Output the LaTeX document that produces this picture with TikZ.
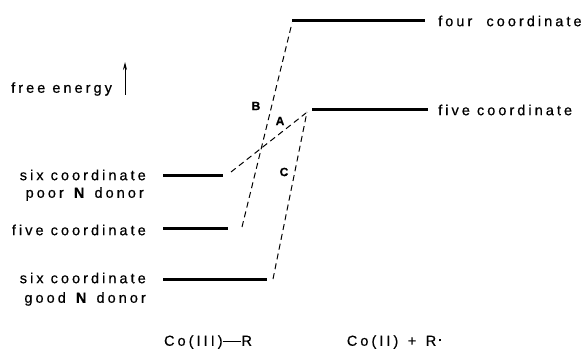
\documentclass[tikz,border=0pt]{standalone}
\usepackage{fontspec}
\setmainfont{Liberation Sans}[LetterSpace=21,FakeBold=0.6]
\usetikzlibrary{arrows.meta}
\begin{document}
\begin{tikzpicture}[x=1pt,y=-1pt,
  level/.style={line width=3pt},
  path/.style={line width=1pt,dash pattern=on 6pt off 4pt},
  lab/.style={font=\fontsize{14.5}{16}\selectfont,inner sep=0pt},
  letter/.style={font=\fontsize{12}{13}\selectfont\bfseries,inner sep=0pt}]
\useasboundingbox (0,0) rectangle (586,350);
% left levels
\coordinate (p1) at (163,175); \coordinate (p2) at (223,175);
\coordinate (f1) at (163,228); \coordinate (f2) at (228,228);
\coordinate (g1) at (163,279); \coordinate (g2) at (267,279);
% right levels
\coordinate (u1) at (292,21); \coordinate (u2) at (425,21);
\coordinate (v1) at (312,110); \coordinate (v2) at (428,110);
\draw[level] (p1) -- (p2);
\draw[level] (f1) -- (f2);
\draw[level] (g1) -- (g2);
\draw[level] (u1) -- (u2);
\draw[level] (v1) -- (v2);
% dashed connectors
\coordinate (pa) at (231,172); \coordinate (pb) at (306,113);
\coordinate (fa) at (242,227); \coordinate (fb) at (292,23);
\coordinate (ga) at (273,279); \coordinate (gb) at (307,112);
\draw[path] (pa) -- (pb);
\draw[path] (fa) -- (fb);
\draw[path] (ga) -- (gb);
% path letters
\node[letter] (B) at (256,106) {B};
\node[letter] (A) at (280,121) {A};
\node[letter] (C) at (284,172) {C};
% left labels
\node[lab,anchor=east] (t1) at (146,175) {six coordinate};
\node[lab,anchor=east] (t2) at (144,194) {poor \textbf{N} donor};
\node[lab,anchor=east] (t3) at (146,230) {five coordinate};
\node[lab,anchor=east] (t4) at (146,278) {six coordinate};
\node[lab,anchor=east] (t5) at (146,299) {good \textbf{N} donor};
% right labels
\node[lab,anchor=west] (r1) at (438,21) {four\ \ coordinate};
\node[lab,anchor=west] (r2) at (438,110) {five coordinate};
% free energy
\node[lab,anchor=west] (fe) at (11,89) {free energy};
\coordinate (ea) at (125,95); \coordinate (eb) at (125,62);
\draw[line width=0.9pt,-{Stealth[length=8pt,width=4pt]}] (ea) -- (eb);
% bottom
\node[lab] (co3) at (208,342) {Co(III)\rule[0.3em]{1.3em}{0.8pt}R};
\node[lab] (co2) at (394,342) {Co(II) \,+\, R\,\raisebox{0.3em}{\rule{2.5pt}{2.5pt}}};
\end{tikzpicture}
\end{document}
